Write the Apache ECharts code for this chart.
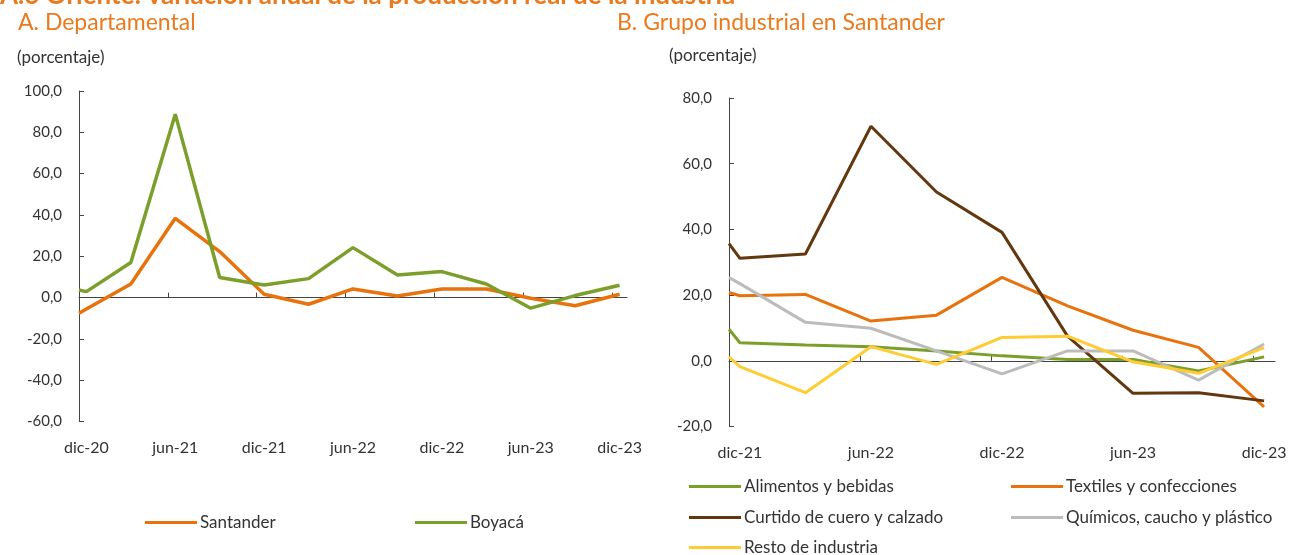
<!DOCTYPE html>
<html>
<head>
<meta charset="utf-8">
<title>Variación anual de la producción real de la industria</title>
<script src="https://cdn.jsdelivr.net/npm/echarts@6/dist/echarts.min.js"></script>
<style>
    html, body { margin: 0; padding: 0; background: #fff; }
    #chart { width: 1291px; height: 555px; }
</style>
</head>
<body>
<div id="chart"></div>
<script>
/**
 * datos leidos del grafico
 * eje x en meses contados desde dic-20 (A) y dic-21 (B)
 */
var mesesA = [-0.5, 0, 3, 6, 9, 12, 15, 18, 21, 24, 27, 30, 33, 36];
var santander = [-7.6, -5.5, 6.6, 38.4, 22.3, 1.6, -3.2, 4.2, 0.8, 4.2, 4.2, -0.3, -3.9, 1.6];
var boyaca = [3.7, 2.9, 17.0, 88.8, 9.7, 6.1, 9.2, 24.2, 11.0, 12.6, 6.6, -5.1, 1.0, 6.0];
var etiquetasA = ["dic-20", "jun-21", "dic-21", "jun-22", "dic-22", "jun-23", "dic-23"];
var posEtiquetasA = [0, 6, 12, 18, 24, 30, 36];

var mesesB = [-0.5, 0, 3, 6, 9, 12, 15, 18, 21, 24];
var alimentos = [9.6, 5.5, 4.8, 4.3, 3.0, 1.5, 0.4, 0.4, -3.1, 1.2];
var textiles = [20.8, 19.8, 20.2, 12.1, 13.9, 25.4, 16.7, 9.3, 4.1, -14.0];
var curtido = [35.7, 31.2, 32.5, 71.4, 51.4, 39.1, 7.5, -9.9, -9.7, -12.2];
var quimicos = [25.3, 23.5, 11.7, 9.9, 3.0, -4.0, 3.0, 3.0, -5.9, 5.1];
var resto = [1.2, -1.8, -9.7, 4.3, -1.1, 7.1, 7.5, -0.3, -3.8, 4.0];
var etiquetasB = ["dic-21", "jun-22", "dic-22", "jun-23", "dic-23"];
var posEtiquetasB = [0, 6, 12, 18, 24];

var NARANJA = "#e8720c", VERDE = "#7c9e2a", CAFE = "#63380f", GRIS = "#bcbcbc", AMARILLO = "#ffcc33";
var TITULO = "#ea7a1e", TEXTO = "#333333", EJE = "#444444";
var FUENTE = "Lato, 'Open Sans', sans-serif";

function pares(xs, ys) {
    return xs.map((x, i) => [x, ys[i]]);
}

function coma(v) {
    return v.toFixed(1).replace(".", ",");
}

/**
 * eje x: uno con la linea en cero y otro solo con las etiquetas abajo
 */
function ejesX(grid, min, max, pos, etiquetas) {
    return [{
        type: "value", gridIndex: grid, min: min, max: max,
        axisLine: { onZero: true, lineStyle: { color: EJE, width: 1 } },
        axisTick: { show: true, inside: true, length: 5, lineStyle: { color: EJE },
            customValues: pos.slice(1).map(m => m - 0.5) },
        axisLabel: { show: false },
        splitLine: { show: false }
    }, {
        type: "value", gridIndex: grid, min: min, max: max, position: "bottom",
        axisLine: { show: false, onZero: false },
        axisTick: { show: false },
        axisLabel: { show: true, margin: 18, color: TEXTO, fontSize: 16, fontFamily: FUENTE,
            customValues: pos,
            formatter: v => etiquetas[pos.indexOf(Math.round(v))] || "" },
        splitLine: { show: false }
    }];
}

function ejeY(grid, min, max) {
    return {
        type: "value", gridIndex: grid, min: min, max: max, interval: 20,
        axisLine: { show: true, onZero: false, lineStyle: { color: EJE, width: 1 } },
        axisTick: { show: true, inside: true, length: 5, lineStyle: { color: EJE } },
        axisLabel: { color: TEXTO, fontSize: 15, fontFamily: FUENTE, margin: 17, formatter: coma },
        splitLine: { show: false }
    };
}

function serie(nombre, xEje, yEje, xs, ys, color, ancho) {
    return {
        name: nombre, type: "line", xAxisIndex: xEje, yAxisIndex: yEje,
        data: pares(xs, ys), symbol: "none", smooth: false,
        lineStyle: { color: color, width: ancho }, itemStyle: { color: color },
        emphasis: { disabled: true }, animation: false
    };
}

function leyenda(nombre, left, top) {
    return {
        data: [nombre], left: left, top: top, icon: "rect",
        itemWidth: 52, itemHeight: 3, itemGap: 0,
        textStyle: { color: TEXTO, fontSize: 17, fontFamily: FUENTE, padding: [0, 0, 0, -2] },
        selectedMode: false
    };
}

var chart = echarts.init(document.getElementById("chart"), null, { renderer: "canvas" });

var option = {
    backgroundColor: "#ffffff",
    animation: false,
    grid: [
        { left: 79, width: 548, top: 91, height: 330.6 },
        { left: 729, width: 546, top: 98, height: 328.5 }
    ],
    xAxis: ejesX(0, -0.5, 36.5, posEtiquetasA, etiquetasA).concat(ejesX(1, -0.5, 24.5, posEtiquetasB, etiquetasB)),
    yAxis: [ejeY(0, -60, 100), ejeY(1, -20, 80)],
    legend: [
        leyenda("Santander", 140, 509),
        leyenda("Boyacá", 410, 509),
        leyenda("Alimentos y bebidas", 684, 473),
        leyenda("Textiles y confecciones", 1006, 473),
        leyenda("Curtido de cuero y calzado", 684, 504),
        leyenda("Químicos, caucho y plástico", 1006, 504),
        leyenda("Resto de industria", 684, 534)
    ],
    graphic: [
        { type: "text", left: 0, top: -17, style: { text: "A.6 Oriente: variación anual de la producción real de la industria",
            fill: TITULO, font: "bold 26px " + FUENTE } },
        { type: "text", left: 18, top: 11, style: { text: "A. Departamental", fill: TITULO, font: "23px " + FUENTE } },
        { type: "text", left: 617, top: 11, style: { text: "B. Grupo industrial en Santander", fill: TITULO, font: "23px " + FUENTE } },
        { type: "text", left: 17, top: 49, style: { text: "(porcentaje)", fill: TEXTO, font: "17px " + FUENTE } },
        { type: "text", left: 669, top: 47, style: { text: "(porcentaje)", fill: TEXTO, font: "17px " + FUENTE } }
    ],
    series: [
        serie("Santander", 0, 0, mesesA, santander, NARANJA, 3.5),
        serie("Boyacá", 0, 0, mesesA, boyaca, VERDE, 3.5),
        serie("Alimentos y bebidas", 2, 1, mesesB, alimentos, VERDE, 3),
        serie("Textiles y confecciones", 2, 1, mesesB, textiles, NARANJA, 3),
        serie("Curtido de cuero y calzado", 2, 1, mesesB, curtido, CAFE, 3),
        serie("Químicos, caucho y plástico", 2, 1, mesesB, quimicos, GRIS, 3),
        serie("Resto de industria", 2, 1, mesesB, resto, AMARILLO, 3)
    ]
};

chart.setOption(option);
</script>
</body>
</html>
